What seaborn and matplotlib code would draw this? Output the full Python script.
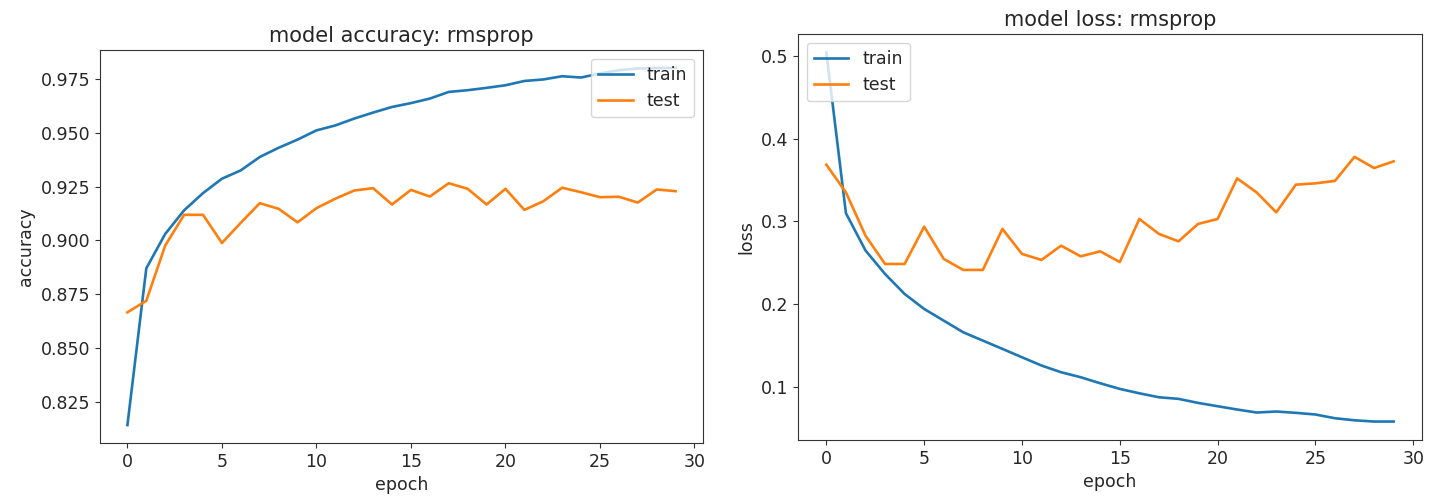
import matplotlib
matplotlib.use("Agg")
import matplotlib.pyplot as plt
import seaborn as sns
import pandas as pd

# Training history (30 epochs, rmsprop optimiser)
epochs = list(range(30))
train_acc = [0.814, 0.887, 0.903, 0.914, 0.922, 0.9287, 0.9326, 0.9388, 0.9431, 0.9469,
             0.9512, 0.9535, 0.9567, 0.9595, 0.9621, 0.9639, 0.966, 0.9691, 0.9699, 0.971,
             0.9722, 0.9742, 0.9749, 0.9764, 0.9758, 0.9777, 0.9792, 0.980, 0.9802, 0.9803]
test_acc = [0.8665, 0.8719, 0.8976, 0.9119, 0.9119, 0.8988, 0.9082, 0.9173, 0.9147, 0.9084,
            0.915, 0.9194, 0.9232, 0.9243, 0.9167, 0.9235, 0.9204, 0.9266, 0.924, 0.9167,
            0.924, 0.9142, 0.9182, 0.9245, 0.9224, 0.9201, 0.9203, 0.9176, 0.9237, 0.9229]
train_loss = [0.504, 0.310, 0.265, 0.2366, 0.2125, 0.1944, 0.1803, 0.1662, 0.1562, 0.1462,
              0.1361, 0.1261, 0.118, 0.112, 0.1047, 0.0979, 0.0926, 0.0878, 0.0859, 0.081,
              0.077, 0.073, 0.0694, 0.0706, 0.069, 0.067, 0.0625, 0.060, 0.0585, 0.0585]
test_loss = [0.3685, 0.3351, 0.2829, 0.2487, 0.2487, 0.2937, 0.2548, 0.2415, 0.2415, 0.291,
             0.2608, 0.2536, 0.2708, 0.2579, 0.264, 0.251, 0.303, 0.285, 0.276, 0.297,
             0.303, 0.352, 0.335, 0.311, 0.3444, 0.346, 0.349, 0.378, 0.3645, 0.3725]

series_labels = ["train", "test"]

acc_df = pd.DataFrame({"epoch": epochs, "train": train_acc, "test": test_acc})
loss_df = pd.DataFrame({"epoch": epochs, "train": train_loss, "test": test_loss})

plt.rcParams["font.family"] = ["DejaVu Sans"]
FS = 12.5
plt.rcParams.update({
    "xtick.labelsize": FS,
    "ytick.labelsize": FS,
    "axes.labelsize": FS,
    "axes.titlesize": FS * 1.2,
    "legend.fontsize": FS,
    "axes.edgecolor": "#333333",
    "text.color": "#262626",
    "xtick.color": "#333333",
    "ytick.color": "#333333",
    "xtick.labelcolor": "#262626",
    "ytick.labelcolor": "#262626",
    "axes.labelcolor": "#262626",
})

W, H = 1439, 504
fig = plt.figure(figsize=(W / 100, H / 100), dpi=100)
ax1 = fig.add_axes([100 / W, (H - 443) / H, 603 / W, 393 / H])
ax2 = fig.add_axes([798 / W, (H - 440) / H, 624 / W, 406 / H])

colors = ["#1f77b4", "#ff7f0e"]

for ax, df, metric, title, loc in [
    (ax1, acc_df, "accuracy", "model accuracy: rmsprop", "upper right"),
    (ax2, loss_df, "loss", "model loss: rmsprop", "upper left"),
]:
    for name, c in zip(series_labels, colors):
        sns.lineplot(data=df, x="epoch", y=name, ax=ax, color=c, linewidth=1.9, label=name)
    ax.set_title(title)
    ax.set_xlabel("epoch")
    ax.set_ylabel(metric)
    ax.set_xticks([0, 5, 10, 15, 20, 25, 30])
    ax.legend(loc=loc)

ax1.set_yticks([0.825, 0.850, 0.875, 0.900, 0.925, 0.950, 0.975])
ax1.set_yticklabels([f"{v:.3f}" for v in [0.825, 0.850, 0.875, 0.900, 0.925, 0.950, 0.975]])
ax2.set_yticks([0.1, 0.2, 0.3, 0.4, 0.5])

fig.savefig("out.png", dpi=100)
